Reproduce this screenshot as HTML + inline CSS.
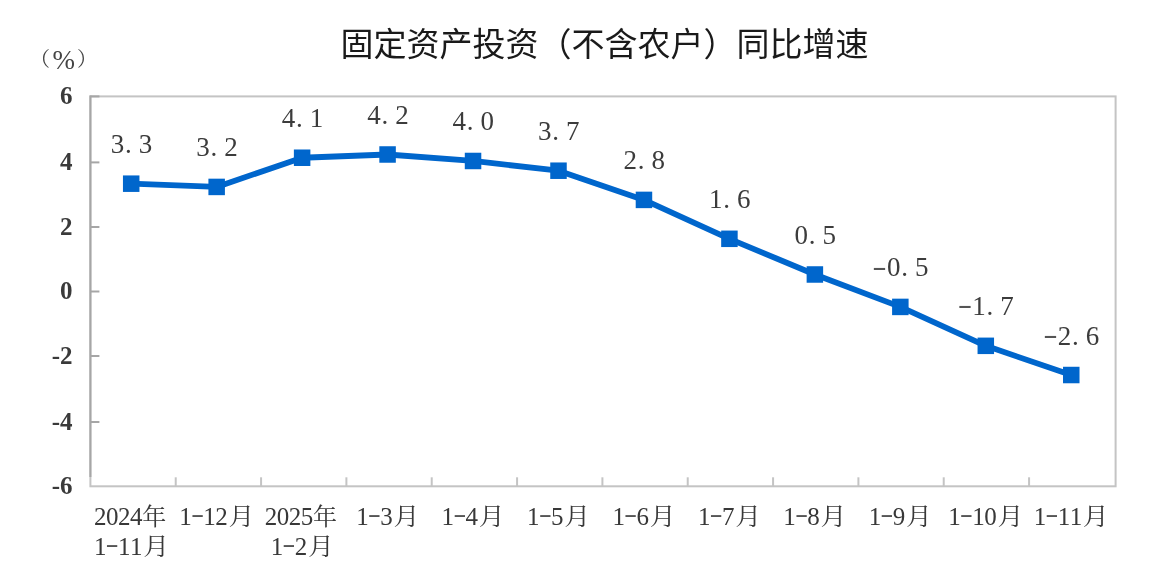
<!DOCTYPE html>
<html lang="zh-CN"><head><meta charset="utf-8"><title>固定资产投资（不含农户）同比增速</title>
<style>
html,body{margin:0;padding:0;background:#fff;}
body{width:1150px;height:577px;overflow:hidden;position:relative;}
svg{position:absolute;left:0;top:0;filter:blur(0.4px);}
.title{font-family:"Liberation Sans","Noto Sans CJK SC",sans-serif;font-size:33px;fill:#1a1a1a;}
.unit{font-family:"Liberation Serif","Noto Serif CJK SC",serif;font-size:20px;fill:#444;}
.pct{font-family:"Liberation Serif",serif;font-size:27px;}
.dl{font-family:"Liberation Serif","Noto Serif CJK SC",serif;font-size:26px;fill:#3c3c3c;}
.yl{font-family:"Liberation Serif",serif;font-weight:bold;font-size:25px;fill:#3a3a3a;text-anchor:end;}
.xl{font-family:"Liberation Serif","Noto Serif CJK SC",serif;font-size:24px;fill:#383838;}
</style></head>
<body>
<svg width="1150" height="577" viewBox="0 0 1150 577">
<text class="title" x="604.5" y="56" text-anchor="middle">固定资产投资（不含农户）同比增速</text>
<text class="unit" x="30" y="66">（<tspan class="pct" dx="2.5" dy="2.5">%</tspan><tspan dx="2" dy="-2.5">）</tspan></text>
<rect x="90.4" y="96.4" width="1025.20" height="389.90" fill="none" stroke="#c4c4c4" stroke-width="2"/>
<line x1="90.4" y1="95.4" x2="90.4" y2="477" stroke="#a6a6a6" stroke-width="2"/>
<line x1="90.4" y1="96.40" x2="99.40" y2="96.40" stroke="#a6a6a6" stroke-width="2"/>
<line x1="90.4" y1="162.40" x2="99.40" y2="162.40" stroke="#a6a6a6" stroke-width="2"/>
<line x1="90.4" y1="227.00" x2="99.40" y2="227.00" stroke="#a6a6a6" stroke-width="2"/>
<line x1="90.4" y1="291.50" x2="99.40" y2="291.50" stroke="#a6a6a6" stroke-width="2"/>
<line x1="90.4" y1="356.00" x2="99.40" y2="356.00" stroke="#a6a6a6" stroke-width="2"/>
<line x1="90.4" y1="422.00" x2="99.40" y2="422.00" stroke="#a6a6a6" stroke-width="2"/>
<line x1="175.73" y1="486.3" x2="175.73" y2="477.30" stroke="#c4c4c4" stroke-width="2"/>
<line x1="261.07" y1="486.3" x2="261.07" y2="477.30" stroke="#c4c4c4" stroke-width="2"/>
<line x1="346.40" y1="486.3" x2="346.40" y2="477.30" stroke="#c4c4c4" stroke-width="2"/>
<line x1="431.73" y1="486.3" x2="431.73" y2="477.30" stroke="#c4c4c4" stroke-width="2"/>
<line x1="517.07" y1="486.3" x2="517.07" y2="477.30" stroke="#c4c4c4" stroke-width="2"/>
<line x1="602.40" y1="486.3" x2="602.40" y2="477.30" stroke="#c4c4c4" stroke-width="2"/>
<line x1="687.73" y1="486.3" x2="687.73" y2="477.30" stroke="#c4c4c4" stroke-width="2"/>
<line x1="773.07" y1="486.3" x2="773.07" y2="477.30" stroke="#c4c4c4" stroke-width="2"/>
<line x1="858.40" y1="486.3" x2="858.40" y2="477.30" stroke="#c4c4c4" stroke-width="2"/>
<line x1="943.73" y1="486.3" x2="943.73" y2="477.30" stroke="#c4c4c4" stroke-width="2"/>
<line x1="1029.07" y1="486.3" x2="1029.07" y2="477.30" stroke="#c4c4c4" stroke-width="2"/>
<polyline points="131.20,183.68 216.66,186.92 302.12,157.74 387.58,154.49 473.04,160.98 558.50,170.71 643.96,199.90 729.42,238.81 814.88,274.49 900.34,306.91 985.80,345.83 1071.26,375.02" fill="none" stroke="#0066cc" stroke-width="5.8" stroke-linejoin="round"/>
<rect x="122.95" y="175.43" width="16.5" height="16.5" fill="#0066cc"/>
<rect x="208.41" y="178.67" width="16.5" height="16.5" fill="#0066cc"/>
<rect x="293.87" y="149.49" width="16.5" height="16.5" fill="#0066cc"/>
<rect x="379.33" y="146.24" width="16.5" height="16.5" fill="#0066cc"/>
<rect x="464.79" y="152.73" width="16.5" height="16.5" fill="#0066cc"/>
<rect x="550.25" y="162.46" width="16.5" height="16.5" fill="#0066cc"/>
<rect x="635.71" y="191.65" width="16.5" height="16.5" fill="#0066cc"/>
<rect x="721.17" y="230.56" width="16.5" height="16.5" fill="#0066cc"/>
<rect x="806.63" y="266.24" width="16.5" height="16.5" fill="#0066cc"/>
<rect x="892.09" y="298.66" width="16.5" height="16.5" fill="#0066cc"/>
<rect x="977.55" y="337.58" width="16.5" height="16.5" fill="#0066cc"/>
<rect x="1063.01" y="366.77" width="16.5" height="16.5" fill="#0066cc"/>
<text class="dl"><tspan x="110.75" y="153.18" font-size="27">3</tspan><tspan x="125.00" y="153.18" font-size="27">.</tspan><tspan x="138.75" y="153.18" font-size="27">3</tspan></text>
<text class="dl"><tspan x="196.21" y="156.42" font-size="27">3</tspan><tspan x="210.46" y="156.42" font-size="27">.</tspan><tspan x="224.21" y="156.42" font-size="27">2</tspan></text>
<text class="dl"><tspan x="281.67" y="127.24" font-size="27">4</tspan><tspan x="295.92" y="127.24" font-size="27">.</tspan><tspan x="309.67" y="127.24" font-size="27">1</tspan></text>
<text class="dl"><tspan x="367.13" y="123.99" font-size="27">4</tspan><tspan x="381.38" y="123.99" font-size="27">.</tspan><tspan x="395.13" y="123.99" font-size="27">2</tspan></text>
<text class="dl"><tspan x="452.59" y="130.48" font-size="27">4</tspan><tspan x="466.84" y="130.48" font-size="27">.</tspan><tspan x="480.59" y="130.48" font-size="27">0</tspan></text>
<text class="dl"><tspan x="538.05" y="140.21" font-size="27">3</tspan><tspan x="552.30" y="140.21" font-size="27">.</tspan><tspan x="566.05" y="140.21" font-size="27">7</tspan></text>
<text class="dl"><tspan x="623.51" y="169.40" font-size="27">2</tspan><tspan x="637.76" y="169.40" font-size="27">.</tspan><tspan x="651.51" y="169.40" font-size="27">8</tspan></text>
<text class="dl"><tspan x="708.97" y="208.31" font-size="27">1</tspan><tspan x="723.22" y="208.31" font-size="27">.</tspan><tspan x="736.97" y="208.31" font-size="27">6</tspan></text>
<text class="dl"><tspan x="794.43" y="243.99" font-size="27">0</tspan><tspan x="808.68" y="243.99" font-size="27">.</tspan><tspan x="822.43" y="243.99" font-size="27">5</tspan></text>
<text class="dl"><tspan x="872.37" y="274.51" font-size="27" textLength="14.45" lengthAdjust="spacingAndGlyphs" fill="#555">-</tspan><tspan x="886.89" y="276.41" font-size="27">0</tspan><tspan x="901.14" y="276.41" font-size="27">.</tspan><tspan x="914.89" y="276.41" font-size="27">5</tspan></text>
<text class="dl"><tspan x="957.83" y="313.43" font-size="27" textLength="14.45" lengthAdjust="spacingAndGlyphs" fill="#555">-</tspan><tspan x="972.35" y="315.33" font-size="27">1</tspan><tspan x="986.60" y="315.33" font-size="27">.</tspan><tspan x="1000.35" y="315.33" font-size="27">7</tspan></text>
<text class="dl"><tspan x="1043.29" y="342.62" font-size="27" textLength="14.45" lengthAdjust="spacingAndGlyphs" fill="#555">-</tspan><tspan x="1057.81" y="344.52" font-size="27">2</tspan><tspan x="1072.06" y="344.52" font-size="27">.</tspan><tspan x="1085.81" y="344.52" font-size="27">6</tspan></text>
<text class="yl" x="72.5" y="104.00">6</text>
<text class="yl" x="72.5" y="170.00">4</text>
<text class="yl" x="72.5" y="234.60">2</text>
<text class="yl" x="72.5" y="299.10">0</text>
<text class="yl" x="72.5" y="363.60">-2</text>
<text class="yl" x="72.5" y="429.60">-4</text>
<text class="yl" x="72.5" y="493.90">-6</text>
<text class="xl"><tspan x="93.90" y="525.00" font-size="25">2</tspan><tspan x="105.90" y="525.00" font-size="25">0</tspan><tspan x="117.90" y="525.00" font-size="25">2</tspan><tspan x="129.90" y="525.00" font-size="25">4</tspan><tspan x="142.15" y="525.00" font-size="24">年</tspan></text>
<text class="xl"><tspan x="93.90" y="555.00" font-size="25">1</tspan><tspan x="105.51" y="552.40" font-size="25" textLength="13.19" lengthAdjust="spacingAndGlyphs" fill="#555">-</tspan><tspan x="117.90" y="555.00" font-size="25">1</tspan><tspan x="129.90" y="555.00" font-size="25">1</tspan><tspan x="143.15" y="555.00" font-size="24" textLength="26.00" lengthAdjust="spacingAndGlyphs">月</tspan></text>
<text class="xl"><tspan x="179.33" y="525.00" font-size="25">1</tspan><tspan x="190.94" y="522.40" font-size="25" textLength="13.19" lengthAdjust="spacingAndGlyphs" fill="#555">-</tspan><tspan x="203.33" y="525.00" font-size="25">1</tspan><tspan x="215.33" y="525.00" font-size="25">2</tspan><tspan x="228.58" y="525.00" font-size="24" textLength="26.00" lengthAdjust="spacingAndGlyphs">月</tspan></text>
<text class="xl"><tspan x="264.76" y="525.00" font-size="25">2</tspan><tspan x="276.76" y="525.00" font-size="25">0</tspan><tspan x="288.76" y="525.00" font-size="25">2</tspan><tspan x="300.76" y="525.00" font-size="25">5</tspan><tspan x="313.01" y="525.00" font-size="24">年</tspan></text>
<text class="xl"><tspan x="270.76" y="555.00" font-size="25">1</tspan><tspan x="282.37" y="552.40" font-size="25" textLength="13.19" lengthAdjust="spacingAndGlyphs" fill="#555">-</tspan><tspan x="294.76" y="555.00" font-size="25">2</tspan><tspan x="308.01" y="555.00" font-size="24" textLength="26.00" lengthAdjust="spacingAndGlyphs">月</tspan></text>
<text class="xl"><tspan x="356.19" y="525.00" font-size="25">1</tspan><tspan x="367.80" y="522.40" font-size="25" textLength="13.19" lengthAdjust="spacingAndGlyphs" fill="#555">-</tspan><tspan x="380.19" y="525.00" font-size="25">3</tspan><tspan x="393.44" y="525.00" font-size="24" textLength="26.00" lengthAdjust="spacingAndGlyphs">月</tspan></text>
<text class="xl"><tspan x="441.62" y="525.00" font-size="25">1</tspan><tspan x="453.23" y="522.40" font-size="25" textLength="13.19" lengthAdjust="spacingAndGlyphs" fill="#555">-</tspan><tspan x="465.62" y="525.00" font-size="25">4</tspan><tspan x="478.87" y="525.00" font-size="24" textLength="26.00" lengthAdjust="spacingAndGlyphs">月</tspan></text>
<text class="xl"><tspan x="527.05" y="525.00" font-size="25">1</tspan><tspan x="538.66" y="522.40" font-size="25" textLength="13.19" lengthAdjust="spacingAndGlyphs" fill="#555">-</tspan><tspan x="551.05" y="525.00" font-size="25">5</tspan><tspan x="564.30" y="525.00" font-size="24" textLength="26.00" lengthAdjust="spacingAndGlyphs">月</tspan></text>
<text class="xl"><tspan x="612.48" y="525.00" font-size="25">1</tspan><tspan x="624.09" y="522.40" font-size="25" textLength="13.19" lengthAdjust="spacingAndGlyphs" fill="#555">-</tspan><tspan x="636.48" y="525.00" font-size="25">6</tspan><tspan x="649.73" y="525.00" font-size="24" textLength="26.00" lengthAdjust="spacingAndGlyphs">月</tspan></text>
<text class="xl"><tspan x="697.91" y="525.00" font-size="25">1</tspan><tspan x="709.52" y="522.40" font-size="25" textLength="13.19" lengthAdjust="spacingAndGlyphs" fill="#555">-</tspan><tspan x="721.91" y="525.00" font-size="25">7</tspan><tspan x="735.16" y="525.00" font-size="24" textLength="26.00" lengthAdjust="spacingAndGlyphs">月</tspan></text>
<text class="xl"><tspan x="783.34" y="525.00" font-size="25">1</tspan><tspan x="794.95" y="522.40" font-size="25" textLength="13.19" lengthAdjust="spacingAndGlyphs" fill="#555">-</tspan><tspan x="807.34" y="525.00" font-size="25">8</tspan><tspan x="820.59" y="525.00" font-size="24" textLength="26.00" lengthAdjust="spacingAndGlyphs">月</tspan></text>
<text class="xl"><tspan x="868.77" y="525.00" font-size="25">1</tspan><tspan x="880.38" y="522.40" font-size="25" textLength="13.19" lengthAdjust="spacingAndGlyphs" fill="#555">-</tspan><tspan x="892.77" y="525.00" font-size="25">9</tspan><tspan x="906.02" y="525.00" font-size="24" textLength="26.00" lengthAdjust="spacingAndGlyphs">月</tspan></text>
<text class="xl"><tspan x="948.20" y="525.00" font-size="25">1</tspan><tspan x="959.81" y="522.40" font-size="25" textLength="13.19" lengthAdjust="spacingAndGlyphs" fill="#555">-</tspan><tspan x="972.20" y="525.00" font-size="25">1</tspan><tspan x="984.20" y="525.00" font-size="25">0</tspan><tspan x="997.45" y="525.00" font-size="24" textLength="26.00" lengthAdjust="spacingAndGlyphs">月</tspan></text>
<text class="xl"><tspan x="1033.63" y="525.00" font-size="25">1</tspan><tspan x="1045.24" y="522.40" font-size="25" textLength="13.19" lengthAdjust="spacingAndGlyphs" fill="#555">-</tspan><tspan x="1057.63" y="525.00" font-size="25">1</tspan><tspan x="1069.63" y="525.00" font-size="25">1</tspan><tspan x="1082.88" y="525.00" font-size="24" textLength="26.00" lengthAdjust="spacingAndGlyphs">月</tspan></text>
</svg>
</body></html>
